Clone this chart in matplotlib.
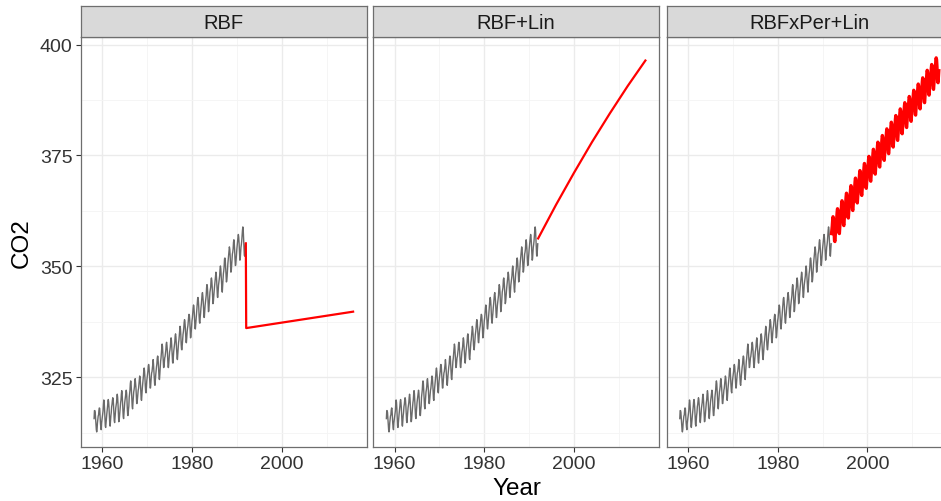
import numpy as np
import matplotlib
matplotlib.use('Agg')
import matplotlib.pyplot as plt
from matplotlib.ticker import MultipleLocator

plt.rcParams['font.family'] = ['Liberation Sans', 'DejaVu Sans']

# Mauna Loa CO2, monthly means (ppm), training part 1958-1991
train_years = list(range(1958, 1992))
train_co2 = [
    [np.nan, np.nan, 315.7, 317.5, 317.5, 317.1, 315.9, 314.9, 313.2, 312.7, 313.3, 314.7],
    [315.4, 316.3, 316.5, 317.6, 318.1, 318.0, 316.4, 314.7, 313.7, 313.2, 314.7, 315.4],
    [316.3, 316.8, 317.4, 318.9, 319.9, 319.4, 318.0, 315.7, 314.0, 313.7, 314.8, 316.0],
    [316.7, 317.5, 318.4, 319.5, 320.0, 319.4, 318.1, 316.0, 314.4, 314.0, 315.3, 316.4],
    [317.1, 318.4, 318.9, 319.8, 320.4, 320.0, 318.8, 316.8, 315.2, 314.8, 315.9, 317.3],
    [318.1, 318.8, 319.3, 320.5, 321.2, 320.5, 319.0, 316.8, 315.0, 315.1, 316.2, 317.4],
    [318.7, 319.3, 319.9, 321.2, 322.0, 321.4, 319.5, 317.5, 316.1, 315.7, 316.9, 318.0],
    [319.3, 320.0, 320.6, 321.5, 322.1, 321.5, 319.9, 317.8, 316.4, 316.4, 317.7, 318.5],
    [320.5, 321.4, 322.1, 323.6, 324.2, 323.6, 322.1, 320.2, 318.4, 317.9, 319.2, 320.4],
    [321.7, 322.2, 322.9, 324.3, 324.7, 323.7, 322.7, 320.8, 319.1, 319.1, 320.2, 321.3],
    [322.1, 322.5, 323.5, 324.7, 325.3, 325.0, 323.7, 321.8, 320.1, 319.8, 321.2, 322.5],
    [323.4, 324.4, 325.3, 326.6, 327.1, 326.4, 325.0, 323.1, 321.8, 321.5, 322.9, 324.2],
    [324.9, 325.7, 326.4, 327.6, 327.9, 327.4, 325.9, 324.1, 322.6, 322.6, 323.9, 325.1],
    [326.0, 326.3, 327.0, 327.9, 329.0, 328.0, 326.6, 325.0, 323.4, 323.2, 324.5, 325.6],
    [326.6, 327.4, 328.0, 329.3, 329.8, 329.6, 328.1, 326.3, 324.7, 324.5, 325.8, 327.2],
    [328.6, 329.3, 330.5, 331.5, 332.5, 332.0, 330.4, 328.6, 327.2, 327.3, 328.3, 329.4],
    [329.7, 330.4, 331.2, 332.5, 332.9, 332.2, 331.0, 329.2, 327.3, 327.2, 328.3, 329.5],
    [330.7, 331.2, 331.9, 333.2, 333.9, 333.3, 331.7, 329.9, 328.4, 328.2, 329.5, 330.8],
    [331.6, 332.6, 333.0, 334.4, 334.8, 334.1, 332.6, 330.9, 329.3, 329.0, 330.2, 331.6],
    [332.8, 333.4, 334.5, 335.7, 336.5, 336.0, 334.7, 332.4, 331.3, 331.2, 332.4, 333.6],
    [334.7, 335.3, 336.1, 337.4, 338.0, 337.6, 336.3, 334.5, 332.9, 332.8, 334.2, 335.3],
    [336.1, 336.6, 337.7, 338.6, 339.2, 339.0, 337.8, 335.8, 333.9, 334.1, 335.3, 336.8],
    [337.8, 338.4, 339.5, 340.6, 341.3, 341.0, 339.6, 337.6, 336.0, 335.9, 337.1, 338.5],
    [339.7, 340.4, 341.5, 342.7, 343.0, 342.3, 340.9, 338.8, 337.4, 337.2, 338.6, 339.5],
    [340.7, 341.5, 342.6, 343.7, 344.1, 343.3, 342.1, 340.2, 338.5, 338.5, 339.8, 341.2],
    [342.0, 342.7, 343.5, 345.2, 345.9, 345.5, 344.1, 342.2, 339.8, 340.0, 341.4, 343.0],
    [344.2, 344.8, 345.3, 347.0, 347.4, 346.8, 345.4, 343.3, 341.6, 341.9, 343.1, 344.6],
    [345.2, 346.1, 346.9, 348.0, 348.7, 348.1, 346.8, 344.8, 343.1, 343.0, 344.4, 345.8],
    [346.5, 347.3, 347.9, 349.4, 350.1, 349.5, 347.9, 345.9, 344.9, 344.2, 345.9, 347.1],
    [348.4, 349.0, 350.0, 351.7, 351.9, 351.3, 349.9, 348.2, 346.5, 346.7, 347.8, 349.3],
    [350.7, 351.6, 352.6, 353.6, 354.4, 353.9, 352.5, 350.4, 348.7, 348.9, 350.3, 351.7],
    [352.8, 353.2, 353.9, 355.4, 356.0, 355.3, 353.9, 351.7, 350.2, 350.3, 351.6, 352.9],
    [353.9, 354.8, 355.5, 356.6, 357.2, 356.6, 355.2, 353.2, 351.4, 351.6, 353.1, 354.3],
    [354.9, 355.7, 357.0, 358.1, 358.9, 358.3, 356.5, 354.3, 352.5, 352.3, 353.8, 355.1],
]

# forecasts of the three kernels
rbf_t = [1992.0, 1992.083, 2015.917]
rbf_pred = [355.2, 336.1, 339.8]

lin_t = [1992.0, 1996.0, 2000.0, 2004.0, 2008.0, 2012.0, 2015.917]
lin_pred = [356.3, 363.9, 371.1, 378.0, 384.5, 390.7, 396.4]

per_years = list(range(1992, 2016))
per_pred = [
    [357.4, 358.2, 359.1, 360.4, 361.2, 360.8, 359.4, 357.4, 355.8, 355.6, 357.0, 358.3],
    [359.2, 360.0, 360.9, 362.2, 363.0, 362.6, 361.2, 359.2, 357.6, 357.4, 358.8, 360.1],
    [361.0, 361.8, 362.7, 364.0, 364.8, 364.4, 363.0, 361.0, 359.4, 359.2, 360.6, 361.9],
    [362.7, 363.5, 364.4, 365.7, 366.5, 366.1, 364.7, 362.7, 361.1, 360.9, 362.3, 363.6],
    [364.4, 365.2, 366.1, 367.4, 368.2, 367.8, 366.4, 364.4, 362.8, 362.6, 364.0, 365.3],
    [366.1, 366.9, 367.8, 369.1, 369.9, 369.5, 368.1, 366.1, 364.5, 364.3, 365.7, 367.0],
    [367.8, 368.6, 369.5, 370.8, 371.6, 371.2, 369.8, 367.8, 366.2, 366.0, 367.4, 368.7],
    [369.4, 370.2, 371.1, 372.4, 373.2, 372.8, 371.4, 369.4, 367.8, 367.6, 369.0, 370.3],
    [371.0, 371.8, 372.7, 374.0, 374.8, 374.4, 373.0, 371.0, 369.4, 369.2, 370.6, 371.9],
    [372.6, 373.4, 374.3, 375.6, 376.4, 376.0, 374.6, 372.6, 371.0, 370.8, 372.2, 373.5],
    [374.2, 375.0, 375.9, 377.2, 378.0, 377.6, 376.2, 374.2, 372.6, 372.4, 373.8, 375.1],
    [375.7, 376.5, 377.4, 378.7, 379.5, 379.1, 377.7, 375.7, 374.1, 373.9, 375.3, 376.6],
    [377.2, 378.0, 378.9, 380.2, 381.0, 380.6, 379.2, 377.2, 375.6, 375.4, 376.8, 378.1],
    [378.7, 379.5, 380.4, 381.7, 382.5, 382.1, 380.7, 378.7, 377.1, 376.9, 378.3, 379.6],
    [380.2, 381.0, 381.9, 383.2, 384.0, 383.6, 382.2, 380.2, 378.6, 378.4, 379.8, 381.1],
    [381.7, 382.5, 383.4, 384.7, 385.5, 385.1, 383.7, 381.7, 380.1, 379.9, 381.3, 382.6],
    [383.1, 383.9, 384.8, 386.1, 386.9, 386.5, 385.1, 383.1, 381.5, 381.3, 382.7, 384.0],
    [384.5, 385.3, 386.2, 387.5, 388.3, 387.9, 386.5, 384.5, 382.9, 382.7, 384.1, 385.4],
    [385.9, 386.7, 387.6, 388.9, 389.7, 389.3, 387.9, 385.9, 384.3, 384.1, 385.5, 386.8],
    [387.3, 388.1, 389.0, 390.3, 391.1, 390.7, 389.3, 387.3, 385.7, 385.5, 386.9, 388.2],
    [388.7, 389.5, 390.4, 391.7, 392.5, 392.1, 390.7, 388.7, 387.1, 386.9, 388.3, 389.6],
    [390.4, 391.2, 392.1, 393.4, 394.2, 393.8, 392.4, 390.4, 388.8, 388.6, 390.0, 391.3],
    [391.7, 392.5, 393.4, 394.7, 395.5, 395.1, 393.7, 391.7, 390.1, 389.9, 391.3, 392.6],
    [393.2, 394.0, 394.9, 396.2, 397.0, 396.6, 395.2, 393.2, 391.6, 391.4, 392.8, 394.1],
]

panel_names = ['RBF', 'RBF+Lin', 'RBFxPer+Lin']
x_ticks = [1960, 1980, 2000]
y_ticks = [325, 350, 375, 400]


def monthly(years, rows):
    # раскладываем таблицу год x месяц в ряд времени
    t = np.array([y + m / 12 for y in years for m in range(12)])
    v = np.array(rows, dtype=float).ravel()
    ok = ~np.isnan(v)
    return t[ok], v[ok]


def main():
    train_t, train_v = monthly(train_years, train_co2)
    per_t, per_v = monthly(per_years, per_pred)
    forecasts = [(rbf_t, rbf_pred, 1.6), (lin_t, lin_pred, 1.6), (per_t, per_v, 2.4)]

    W, H = 941, 502
    fig = plt.figure(figsize=(W / 100, H / 100), dpi=100)
    lefts = [81, 373.3, 666.7]
    pw = 285.7
    top, bottom, strip_top = 38, 448, 7
    border = '#6e6e6e'

    for i, name in enumerate(panel_names):
        ax = fig.add_axes([lefts[i] / W, (H - bottom) / H, pw / W, (bottom - top) / H])
        ax.plot(train_t, train_v, color='#6a6a6a', linewidth=1.0, zorder=2)
        fx, fy, lw = forecasts[i]
        ax.plot(fx, fy, color='red', linewidth=lw, zorder=3)

        ax.set_xlim(1955.25, 2018.95)
        ax.set_ylim(309.3, 401.7)
        ax.set_xticks(x_ticks)
        ax.set_yticks(y_ticks)
        ax.xaxis.set_minor_locator(MultipleLocator(10))
        ax.yaxis.set_minor_locator(MultipleLocator(12.5))
        ax.grid(which='major', color='#ebebeb', linewidth=1.0, zorder=0)
        ax.grid(which='minor', color='#f4f4f4', linewidth=0.6, zorder=0)
        ax.set_axisbelow(True)
        ax.tick_params(which='minor', length=0)
        ax.tick_params(which='major', length=3.6, width=0.8, color='#333333',
                       labelsize=14, labelcolor='#333333', pad=2.5)
        if i > 0:
            ax.tick_params(axis='y', left=False, labelleft=False)
        for s in ax.spines.values():
            s.set_color(border)
            s.set_linewidth(0.9)

        # полоска с названием модели
        sx = fig.add_axes([lefts[i] / W, (H - top) / H, pw / W, (top - strip_top) / H])
        sx.set_facecolor('#d9d9d9')
        sx.set_xticks([])
        sx.set_yticks([])
        for s in sx.spines.values():
            s.set_color(border)
            s.set_linewidth(0.9)
        sx.text(0.5, 0.47, name, ha='center', va='center', fontsize=14.5,
                color='#1a1a1a', transform=sx.transAxes)

    fig.text(517 / W, 1 - 489 / H, 'Year', ha='center', va='center', fontsize=17.5)
    fig.text(22 / W, 1 - 243 / H, 'CO2', ha='center', va='center', fontsize=17.5,
             rotation=90)

    fig.savefig('out.png', dpi=100)


main()
